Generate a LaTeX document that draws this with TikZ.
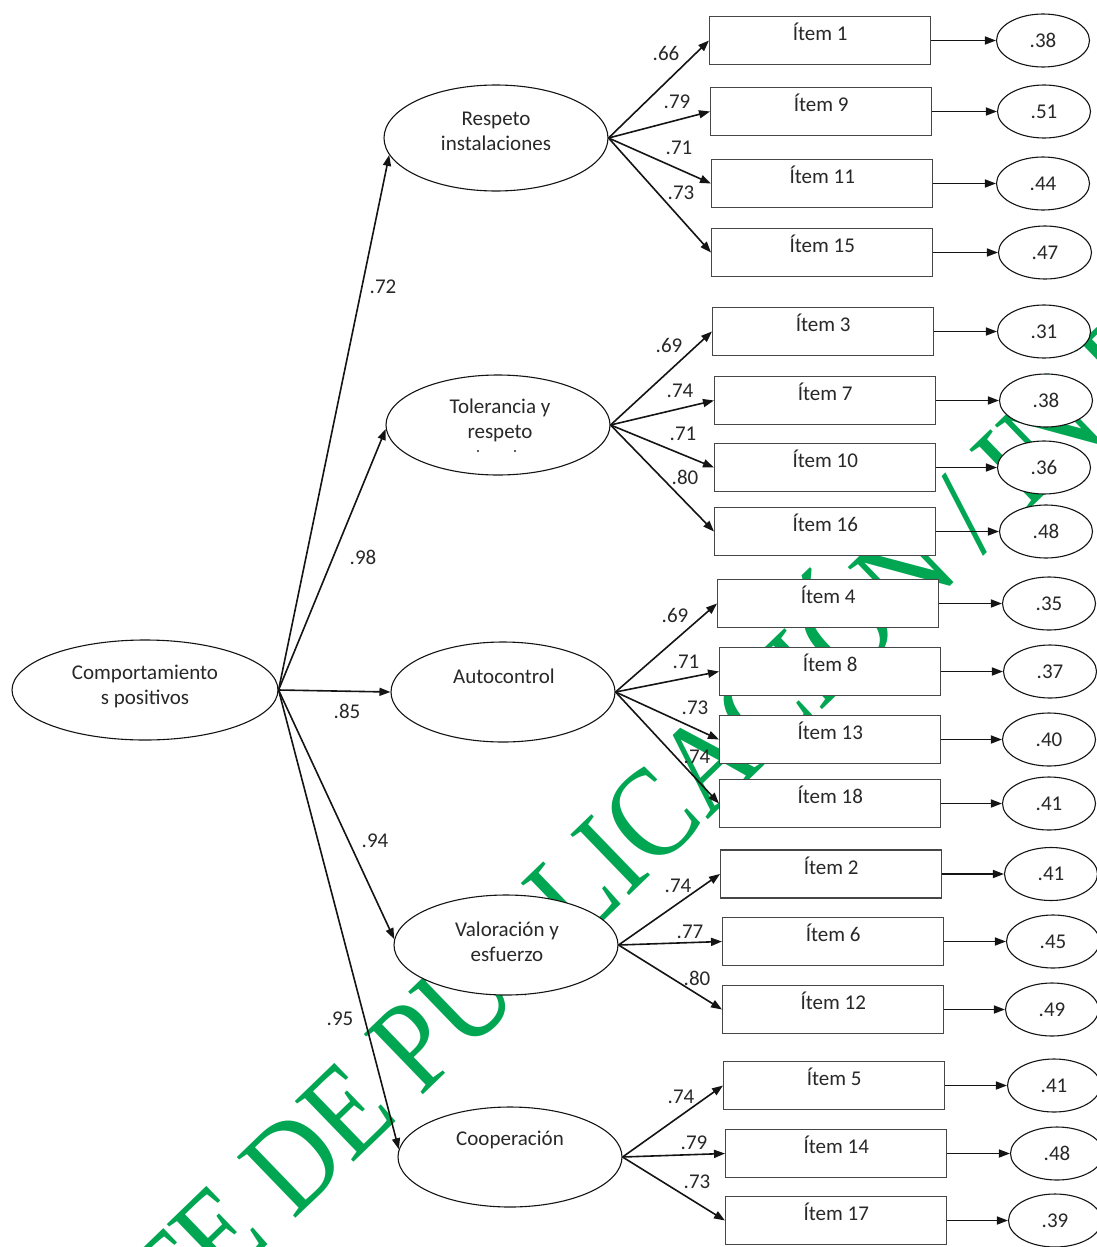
\documentclass[tikz,border=0pt]{standalone}
\usepackage{fontspec}
\setmainfont{Carlito}
\newfontfamily\wmfont{Liberation Serif}
\usetikzlibrary{shapes.geometric,arrows.meta}
\definecolor{wmgreen}{RGB}{0,166,81}
\definecolor{linec}{RGB}{20,20,20}
\definecolor{boxc}{RGB}{70,70,70}
\definecolor{txtc}{RGB}{40,40,40}
\begin{document}
\begin{tikzpicture}[x=1pt,y=-1pt,
  lbl/.style={font=\fontsize{21}{25}\selectfont, text=txtc, inner sep=0pt, align=center},
  fac/.style={ellipse, draw=linec, line width=1.1pt, fill=white, minimum width=224pt, minimum height=100pt, inner sep=0pt},
  itembox/.style={rectangle, draw=boxc, line width=1.4pt, fill=white, minimum width=221pt, inner sep=0pt, text height=24pt, text depth=24pt, font=\fontsize{21}{25}\selectfont, text=txtc, anchor=west},
  err/.style={ellipse, draw=linec, line width=1.1pt, fill=white, minimum width=93pt, minimum height=53pt, inner sep=0pt, font=\fontsize{21}{25}\selectfont, text=txtc},
  arr/.style={draw=linec, line width=1.6pt, -{Triangle[length=11pt,width=8pt]}}]
\useasboundingbox (0,0) rectangle (1097,1247);
% watermark (behind the diagram)
\begin{scope}
\clip (0,0) rectangle (1097,1247);
\node[rotate=44, anchor=base west, text=wmgreen, font=\wmfont\fontsize{112}{112}\selectfont, inner sep=0pt] (wm) at (-170,1668) {\scalebox{1}[1.15]{PENDIENTE DE PUBLICACIÓN / IN PRESS}};
\end{scope}
% main factor
\node[fac, minimum width=266pt] (main) at (145,690) {};
\node[lbl] (mainT) at (145,686) {Comportamiento\\s positivos};
% factors
\node[fac, minimum height=106pt] (F1) at (496,138) {};
\node[lbl] (F1T) at (496,131) {Respeto\\instalaciones};
\node[fac] (F2) at (498,425) {};
\node[lbl] (F2T) at (500,420) {Tolerancia y\\respeto};
\fill[txtc] (478,451) circle (1.1) (515,451) circle (1.1);
\node[fac] (F3) at (503,692) {};
\node[lbl] (F3T) at (504,676) {Autocontrol};
\node[fac] (F4) at (506,945) {};
\node[lbl] (F4T) at (507,942) {Valoración y\\esfuerzo};
\node[fac] (F5) at (510,1157) {};
\node[lbl] (F5T) at (510,1140) {Cooperación};
% structural paths
\draw[arr] (main.east) -- (F1.189);
\draw[arr] (main.east) -- (F2.182);
\draw[arr] (main.east) -- (F3.west);
\draw[arr] (main.east) -- (F4.177);
\draw[arr] (main.east) -- (F5.176);
\node[lbl] (s1) at (383,287) {.72};
\node[lbl] (s2) at (363,557) {.98};
\node[lbl] (s3) at (347,711) {.85};
\node[lbl] (s4) at (375,841) {.94};
\node[lbl] (s5) at (340,1019) {.95};
% items
\foreach \n/\f/\x/\y/\ex/\et/\lx/\ly/\lt in {
  1/F1/709/40.5/1043/.38/666/53/.66,
  9/F1/710/111.5/1044/.51/677/102/.79,
  11/F1/711/183.5/1043/.44/679/148/.71,
  15/F1/711/252.5/1045/.47/681/193/.73,
  3/F2/712/331.5/1044/.31/669/345/.69,
  7/F2/714/400.5/1046/.38/680/391/.74,
  10/F2/714/467.5/1044/.36/683/434/.71,
  16/F2/714/531.5/1046/.48/685/477/.80,
  4/F3/717/603.5/1049/.35/675/615/.69,
  8/F3/719/671.5/1050/.37/686/662/.71,
  13/F3/719/739.5/1049/.40/695/708/.73,
  18/F3/719/803.5/1049/.41/697/757/.74,
  2/F4/720/874/1051/.41/678/886/.74,
  6/F4/722/941.5/1053/.45/690/932/.77,
  12/F4/722/1009.5/1052/.49/697/978/.80,
  5/F5/723/1085.5/1054/.41/681/1097/.74,
  14/F5/725/1153.5/1057/.48/694/1143/.79,
  17/F5/725/1220.5/1055/.39/697/1182/.73}{
  \node[itembox] (i\n) at (\x,\y) {Ítem \n};
  \node[err] (e\n) at (\ex,\y) {\et};
  \draw[arr] (\f.east) -- (i\n.west);
  \draw[arr] (i\n.east) -- (e\n.west);
  \node[lbl] (l\n) at (\lx,\ly) {\lt};
}
\end{tikzpicture}
\end{document}
